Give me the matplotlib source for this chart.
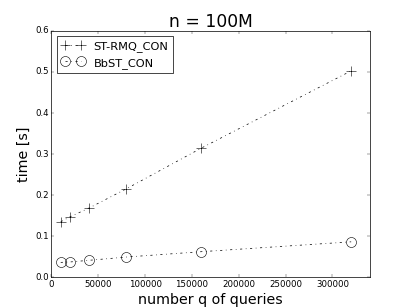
import matplotlib
matplotlib.use("Agg")
import matplotlib.pyplot as plt

plt.style.use("classic")

queries = [10000, 20000, 40000, 80000, 160000, 320000]
st_rmq_con = [0.135, 0.147, 0.168, 0.215, 0.314, 0.502]
bbst_con = [0.036, 0.037, 0.041, 0.049, 0.062, 0.086]

fig = plt.figure(figsize=(8, 6), dpi=411 / 8)
ax = fig.add_subplot(111)
ax.plot(queries, st_rmq_con, color="black", linestyle="-.", marker="+",
        markersize=14, markeredgewidth=0.8, label="ST-RMQ_CON")
ax.plot(queries, bbst_con, color="black", linestyle="-.", marker="o",
        markersize=14, markeredgewidth=0.8, markerfacecolor="none",
        label="BbST_CON")
ax.set_xlim(0, 340000)
ax.set_ylim(0, 0.6)
ax.tick_params(labelsize=12)
ax.set_title("n = 100M", fontsize=24)
ax.set_xlabel("number q of queries", fontsize=20)
ax.set_ylabel("time [s]", fontsize=20)
ax.legend(loc="upper left", fontsize=16)
fig.savefig("out.png", dpi=411 / 8)
